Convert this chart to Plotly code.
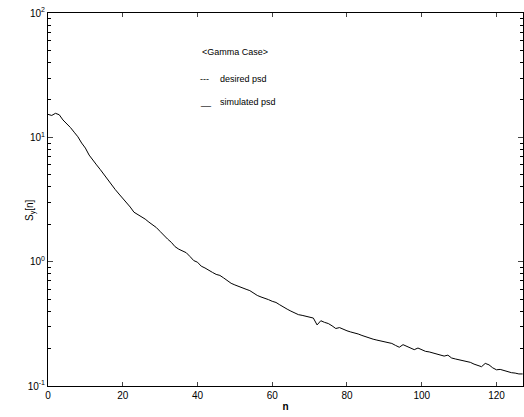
import plotly.graph_objects as go

n_vals = list(range(128))
psd_sim = [
    15.3, 15.0, 15.6, 15.2, 13.8, 12.9, 12.0, 11.0, 10.1, 9.0,
    8.2, 7.2, 6.5, 6.0, 5.5, 5.0, 4.5, 4.1, 3.8, 3.5,
    3.25, 3.0, 2.75, 2.5, 2.4, 2.3, 2.2, 2.08, 1.98, 1.88,
    1.75, 1.62, 1.52, 1.43, 1.32, 1.26, 1.22, 1.18, 1.10, 1.02,
    0.99, 0.92, 0.89, 0.86, 0.82, 0.79, 0.775, 0.74, 0.70, 0.67,
    0.65, 0.63, 0.615, 0.60, 0.585, 0.555, 0.535, 0.52, 0.51, 0.495,
    0.48, 0.47, 0.45, 0.43, 0.415, 0.40, 0.385, 0.375, 0.37, 0.365,
    0.355, 0.352, 0.31, 0.335, 0.325, 0.318, 0.305, 0.29, 0.295, 0.285,
    0.278, 0.272, 0.268, 0.262, 0.255, 0.248, 0.242, 0.238, 0.234, 0.23,
    0.227, 0.222, 0.22, 0.212, 0.205, 0.215, 0.208, 0.2, 0.196, 0.202,
    0.195, 0.19, 0.188, 0.185, 0.18, 0.178, 0.174, 0.177, 0.168, 0.165,
    0.163, 0.16, 0.158, 0.155, 0.15, 0.147, 0.143, 0.152, 0.148, 0.14,
    0.135, 0.136, 0.133, 0.13, 0.128, 0.127, 0.125, 0.125,
]

x_ticks = [0, 20, 40, 60, 80, 100, 120]
y_tickvals = [0.1, 1, 10, 100]
y_ticktext = ["10<sup>-1</sup>", "10<sup>0</sup>", "10<sup>1</sup>", "10<sup>2</sup>"]
y_minor = [m * d for d in (0.1, 1, 10) for m in range(2, 10)]

legend_title = "&lt;Gamma Case&gt;"
legend_items = [("---", "desired psd"), ("__", "simulated psd")]
y_title = "S<sub>y</sub>[n]"

FONT = "Liberation Sans, Arial, sans-serif"
W, H = 524, 417
L, R, T, B = 48, 1, 13, 31
PW, PH = W - L - R, H - T - B


def px(x, y):
    return (x - L) / PW, 1 - (y - T) / PH


fig = go.Figure()
fig.add_trace(go.Scatter(x=n_vals, y=psd_sim, mode="lines",
                         line=dict(color="black", width=1), showlegend=False))

fig.update_layout(
    width=W, height=H,
    margin=dict(l=L, r=R, t=T, b=B),
    paper_bgcolor="white", plot_bgcolor="white",
    font=dict(family=FONT, size=10, color="black"),
    showlegend=False,
)
fig.update_xaxes(
    range=[0, 127.1], tickvals=x_ticks, ticks="inside", ticklen=4,
    showline=True, linecolor="black", linewidth=1, mirror="ticks",
    showgrid=False, zeroline=False,
    title=dict(text="<b>n</b>", standoff=2, font=dict(size=10)),
    tickfont=dict(size=10),
)
fig.update_yaxes(
    type="log", range=[-1, 2], tickvals=y_tickvals, ticktext=y_ticktext,
    ticks="inside", ticklen=5,
    minor=dict(tickvals=y_minor, ticks="inside", ticklen=3,
               tickcolor="black", showgrid=False),
    showline=True, linecolor="black", linewidth=1, mirror="ticks",
    showgrid=False, zeroline=False,
    tickfont=dict(size=10),
)

ax, ay = px(30, 210)
fig.add_annotation(x=ax, y=ay, xref="paper", yref="paper", text=y_title,
                   textangle=-90, showarrow=False, xanchor="center",
                   yanchor="middle", font=dict(size=10))

ax, ay = px(200, 52)
fig.add_annotation(x=ax, y=ay, xref="paper", yref="paper", text=legend_title,
                   showarrow=False, xanchor="left", yanchor="middle",
                   font=dict(size=9))
for (sym, lab), yp in zip(legend_items, [79, 102]):
    sx, sy = px(198, yp)
    fig.add_annotation(x=sx, y=sy, xref="paper", yref="paper", text=sym,
                       showarrow=False, xanchor="left", yanchor="middle",
                       font=dict(size=9))
    tx, ty = px(218, yp)
    fig.add_annotation(x=tx, y=ty, xref="paper", yref="paper", text=lab,
                       showarrow=False, xanchor="left", yanchor="middle",
                       font=dict(size=9))

fig.write_html("out.html")
